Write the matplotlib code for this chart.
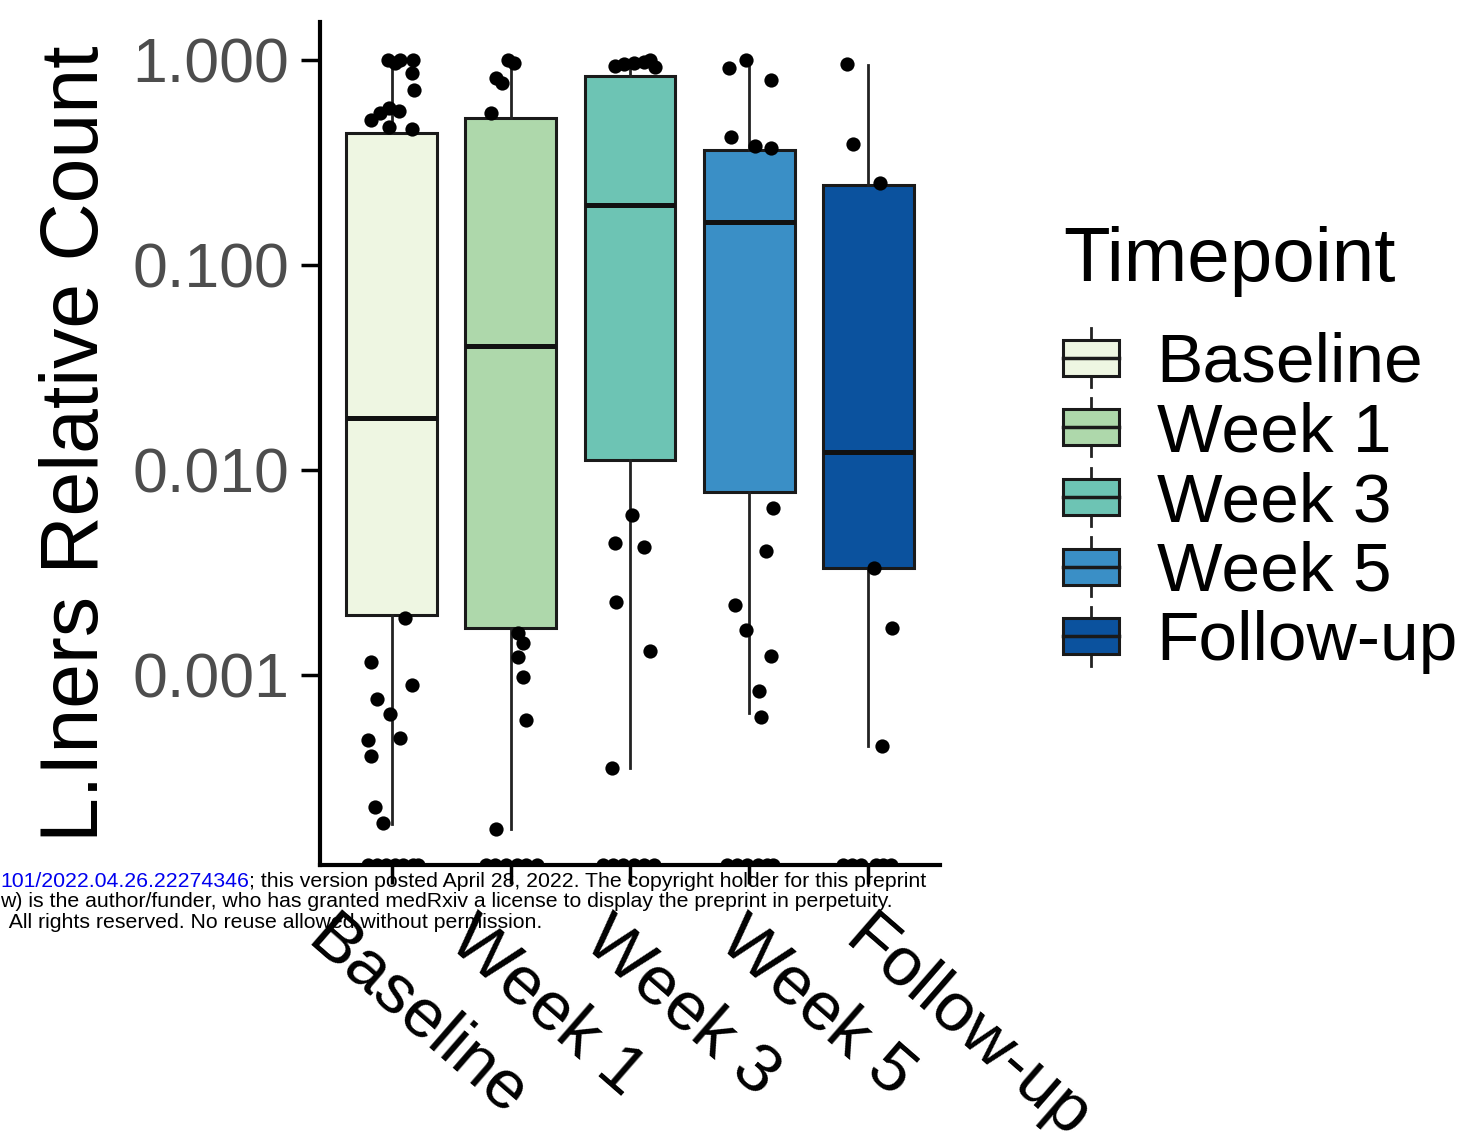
import numpy as np
import matplotlib
matplotlib.use("Agg")
from matplotlib import pyplot as plt
from matplotlib.patches import Patch, Rectangle
from matplotlib.lines import Line2D
from matplotlib.legend_handler import HandlerBase
from matplotlib.ticker import NullLocator
from matplotlib.transforms import ScaledTranslation

plt.rcParams["font.family"] = ["Liberation Sans", "DejaVu Sans"]

# ---------------- data ----------------
groups = ["Baseline", "Week 1", "Week 3", "Week 5", "Follow-up"]
colors = ["#EEF6E2", "#AED8AB", "#6DC4B4", "#3A8FC6", "#0B529E"]

# box statistics
q1 = [0.00196, 0.00169, 0.0112, 0.0078, 0.00333]
med = [0.0179, 0.040, 0.196, 0.162, 0.0122]
q3 = [0.44, 0.52, 0.83, 0.364, 0.245]
whislo = [0.000188, 0.000177, 0.00035, 0.00065, 0.00045]
whishi = [1.0, 1.0, 1.0, 1.0, 0.94]

# jittered points: value and horizontal jitter
base_y = [1.0, 1.0, 1.0, 0.97, 0.86, 0.71, 0.51, 0.55, 0.58, 0.56, 0.47, 0.46,
          0.0019, 0.00115, 0.00089, 0.00076, 0.00064, 0.00049, 0.00048, 0.0004,
          0.000227, 0.00019]
base_dx = [-0.03, 0.07, 0.18, 0.03, 0.17, 0.19, -0.17, -0.10, -0.02, 0.06, -0.02, 0.17,
           0.11, -0.17, 0.17, -0.12, -0.01, 0.07, -0.20, -0.17, -0.14, -0.07]
wk1_y = [1.0, 0.97, 0.82, 0.77, 0.55,
         0.0016, 0.00143, 0.00122, 0.00097, 0.0006, 0.000177]
wk1_dx = [-0.02, 0.03, -0.12, -0.07, -0.17,
          0.06, 0.10, 0.06, 0.10, 0.13, -0.12]
wk3_y = [0.93, 0.95, 0.96, 0.98, 1.0, 0.92,
         0.0060, 0.0044, 0.0042, 0.00227, 0.0013, 0.00035]
wk3_dx = [-0.13, -0.05, 0.03, 0.12, 0.17, 0.21,
          0.02, -0.13, 0.12, -0.12, 0.17, -0.15]
wk5_y = [0.91, 1.0, 0.80, 0.42, 0.38, 0.37,
         0.0065, 0.0040, 0.0022, 0.00166, 0.00124, 0.00083, 0.00062]
wk5_dx = [-0.17, -0.03, 0.18, -0.15, 0.05, 0.18,
          0.20, 0.14, -0.12, -0.03, 0.18, 0.08, 0.10]
fu_y = [0.95, 0.39, 0.25, 0.0033, 0.0017, 0.00045]
fu_dx = [-0.18, -0.13, 0.10, 0.05, 0.20, 0.11]

points_y = [base_y, wk1_y, wk3_y, wk5_y, fu_y]
points_dx = [base_dx, wk1_dx, wk3_dx, wk5_dx, fu_dx]

# zero counts sit on the lower panel edge
zero_dx = [[-0.20, -0.12, -0.05, 0.03, 0.10, 0.18, 0.22],
           [-0.21, -0.13, -0.04, 0.05, 0.13, 0.22],
           [-0.23, -0.14, -0.06, 0.03, 0.12, 0.20],
           [-0.19, -0.10, -0.02, 0.07, 0.15, 0.20],
           [-0.21, -0.14, -0.06, 0.06, 0.12, 0.19]]

y_floor = 1.18e-4
y_top = 1.53

pos = np.arange(len(groups))


class BoxKey(HandlerBase):
    def create_artists(self, legend, orig_handle, xdescent, ydescent,
                       width, height, fontsize, trans):
        x0, y0 = -xdescent, -ydescent
        fc = orig_handle.get_facecolor()
        wl = Line2D([x0 + width / 2] * 2, [y0 - 0.05 * height, y0 + 1.05 * height],
                    color="#222222", lw=2, transform=trans)
        bx = Rectangle((x0, y0 + 0.16 * height), width, 0.68 * height,
                       facecolor=fc, edgecolor="#1a1a1a", lw=2.2, transform=trans)
        md = Line2D([x0, x0 + width], [y0 + height / 2] * 2,
                    color="#1a1a1a", lw=2.5, transform=trans)
        return [wl, bx, md]


fig = plt.figure(figsize=(14.66, 11.35), dpi=100)
ax = fig.add_axes([320 / 1466, 270 / 1135, 620 / 1466, 843 / 1135])

stats = []
for i in range(len(groups)):
    stats.append(dict(med=med[i], q1=q1[i], q3=q3[i], whislo=whislo[i],
                      whishi=whishi[i], fliers=[]))

bp = ax.bxp(stats, positions=pos, widths=0.76, patch_artist=True,
            showfliers=False, showcaps=False,
            boxprops=dict(edgecolor="#1a1a1a", linewidth=2.2),
            medianprops=dict(color="#111111", linewidth=3.6),
            whiskerprops=dict(color="#222222", linewidth=2.0))
for patch, c in zip(bp["boxes"], colors):
    patch.set_facecolor(c)

for i in range(len(groups)):
    ax.scatter(pos[i] + np.array(points_dx[i]), points_y[i], s=105,
               color="black", linewidths=0, zorder=3)
    zx = pos[i] + np.array(zero_dx[i])
    ax.scatter(zx, [y_floor] * len(zx), s=105, color="black",
               linewidths=0, zorder=3)

ax.set_yscale("log")
ax.set_ylim(y_floor, y_top)
ax.set_xlim(-0.6, 4.6)
ax.set_yticks([0.001, 0.01, 0.1, 1.0])
ax.set_yticklabels(["0.001", "0.010", "0.100", "1.000"])
ax.yaxis.set_minor_locator(NullLocator())
ax.set_xticks(pos)
ax.set_xticklabels(groups)

for s in ["top", "right"]:
    ax.spines[s].set_visible(False)
for s in ["left", "bottom"]:
    ax.spines[s].set_linewidth(3)

ax.tick_params(axis="y", length=14, width=2.5, pad=8, labelsize=45,
               labelcolor="#4d4d4d")
ax.tick_params(axis="x", length=14, width=2.5, pad=15.5, labelsize=50,
               labelcolor="black")
# label anchors drift a little to the right, as in the source figure
label_shift_px = [-54, -32, -16, 0, 6]
for lab, sh in zip(ax.get_xticklabels(), label_shift_px):
    lab.set_rotation(-41)
    lab.set_ha("left")
    lab.set_va("top")
    lab.set_rotation_mode("anchor")
    lab.set_transform(lab.get_transform()
                      + ScaledTranslation(sh / 100, 0, fig.dpi_scale_trans))

ax.set_ylabel("L.Iners Relative Count", fontsize=58)
ax.yaxis.set_label_coords(-0.33, 0.50)

# legend
fig.text(1063 / 1466, 1 - 281 / 1135, "Timepoint", fontsize=55, va="baseline")
handles = [Patch(facecolor=c) for c in colors]
fig.legend(handles, groups, handler_map={Patch: BoxKey()},
           loc="upper left", bbox_to_anchor=(1063 / 1466, 1 - 331 / 1135),
           frameon=False, fontsize=50, handlelength=0.8, handleheight=0.8,
           handletextpad=0.55, labelspacing=0.072, borderpad=0,
           borderaxespad=0)

# preprint watermark
wm = 15.3
t1 = fig.text(0, 1 - 887 / 1135, "101/2022.04.26.22274346", color="#0000EE",
              fontsize=wm, va="baseline")
ax.annotate("; this version posted April 28, 2022. The copyright holder for this preprint",
            xy=(1, 0), xycoords=t1, va="bottom", ha="left", fontsize=wm,
            color="black", annotation_clip=False)
fig.text(0, 1 - 907 / 1135,
         "w) is the author/funder, who has granted medRxiv a license to display the preprint in perpetuity.",
         fontsize=wm, va="baseline")
fig.text(4 / 1466, 1 - 928 / 1135,
         " All rights reserved. No reuse allowed without permission.",
         fontsize=wm, va="baseline")

fig.savefig("out.png", dpi=100)
